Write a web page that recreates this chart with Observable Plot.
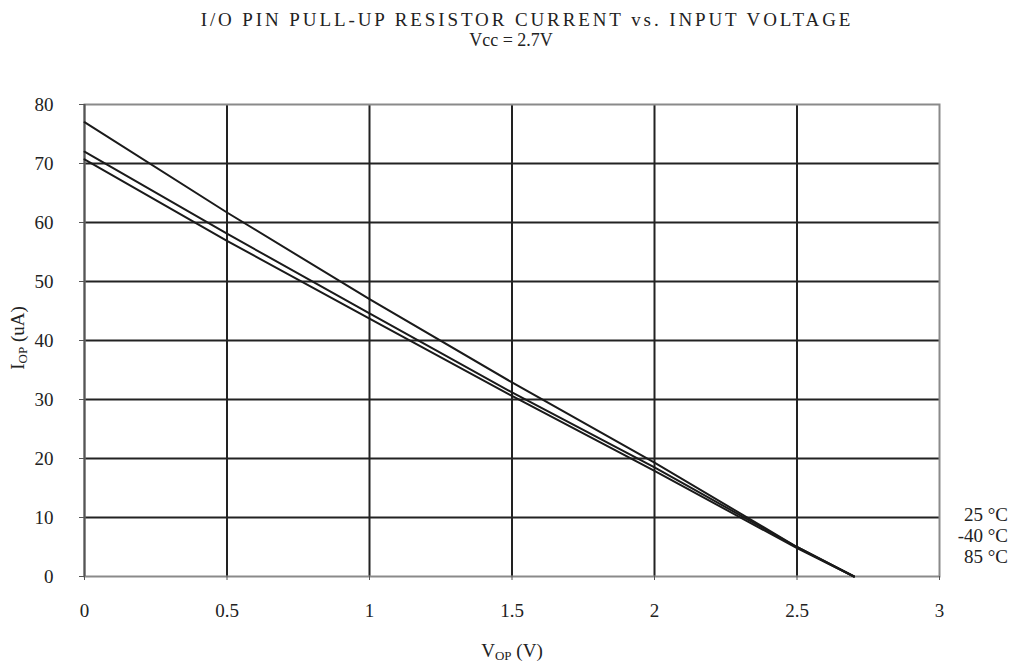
<!DOCTYPE html>
<html>
<head>
<meta charset="utf-8">
<script src="https://cdn.jsdelivr.net/npm/d3@7"></script>
<script src="https://cdn.jsdelivr.net/npm/@observablehq/plot@0.6"></script>
<style>
  html, body { margin: 0; padding: 0; background: #fff; }
  #wrap { position: relative; width: 1016px; height: 664px; font-family: "Liberation Serif", "Times New Roman", serif; color: #222; }
  .title { position: absolute; left: 19px; width: 1016px; text-align: center; top: 9px; font-size: 19px; letter-spacing: 2.9px; }
  .subtitle { position: absolute; left: 3px; width: 1016px; text-align: center; top: 30px; font-size: 18px; }
  .legend { position: absolute; right: 8px; top: 504px; text-align: right; font-size: 19px; line-height: 21px; }
  svg text { font-family: "Liberation Serif", "Times New Roman", serif; }
</style>
</head>
<body>
<div id="wrap">
  <div class="title">I/O PIN PULL-UP RESISTOR CURRENT vs. INPUT VOLTAGE</div>
  <div class="subtitle">Vcc = 2.7V</div>
  <div id="chart"></div>
  <div class="legend" id="legend"></div>
</div>
<script>
// ---- data ----
const voltages = [0, 0.5, 1, 1.5, 2, 2.5, 2.7];
const seriesNames = ["25 °C", "-40 °C", "85 °C"];
const currentA = [77.0, 61.7, 47.0, 32.9, 19.3, 5.0, 0];
const currentB = [72.0, 58.1, 44.6, 31.2, 18.5, 5.0, 0];
const currentC = [70.7, 56.9, 43.7, 30.6, 17.9, 4.8, 0];
const xTicks = [0, 0.5, 1, 1.5, 2, 2.5, 3];
const yTicks = [0, 10, 20, 30, 40, 50, 60, 70, 80];

const seriesValues = [currentA, currentB, currentC];
const rows = [];
seriesValues.forEach((vals, s) => {
  vals.forEach((v, i) => rows.push({series: seriesNames[s], x: voltages[i], y: v}));
});

const chart = Plot.plot({
  width: 1016,
  height: 664,
  marginLeft: 84,
  marginRight: 77,
  marginTop: 104,
  marginBottom: 88,
  style: {fontFamily: "'Liberation Serif', 'Times New Roman', serif", fontSize: "19px", color: "#222", background: "#fff"},
  x: {domain: [0, 3], ticks: xTicks, label: null},
  y: {domain: [0, 80], ticks: yTicks, label: null},
  marks: [
    Plot.ruleX(xTicks.slice(1, -1), {stroke: "#222", strokeWidth: 2}),
    Plot.ruleY(yTicks.slice(1, -1), {stroke: "#222", strokeWidth: 2}),
    Plot.frame({stroke: "#8a8a8a", strokeWidth: 2}),
    Plot.ruleX([0], {stroke: "#555", strokeWidth: 2}),
    Plot.axisY({ticks: yTicks, tickSize: 5, tickPadding: 26, stroke: "#555", tickFormat: d => String(d), fontSize: 19}),
    Plot.axisX({ticks: xTicks, tickSize: 4, tickPadding: 23, stroke: "#555", tickFormat: d => String(d), fontSize: 19}),
    Plot.line(rows, {x: "x", y: "y", z: "series", stroke: "#1a1a1a", strokeWidth: 2})
  ]
});
document.getElementById("chart").appendChild(chart);

// axis titles with subscripts
const svg = d3.select(chart);
const xt = svg.append("text")
  .attr("x", 512).attr("y", 657)
  .attr("text-anchor", "middle").attr("font-size", 19).attr("fill", "#222");
xt.append("tspan").text("V");
xt.append("tspan").attr("font-size", 13).attr("dy", 3).text("OP");
xt.append("tspan").attr("dy", -3).text(" (V)");

const yt = svg.append("text")
  .attr("transform", "translate(24,338) rotate(-90)")
  .attr("text-anchor", "middle").attr("font-size", 19).attr("fill", "#222");
yt.append("tspan").text("I");
yt.append("tspan").attr("font-size", 13).attr("dy", 3).text("OP");
yt.append("tspan").attr("dy", -3).text(" (uA)");

// series labels at right
document.getElementById("legend").innerHTML = seriesNames.map(s => `<div>${s}</div>`).join("");
</script>
</body>
</html>
